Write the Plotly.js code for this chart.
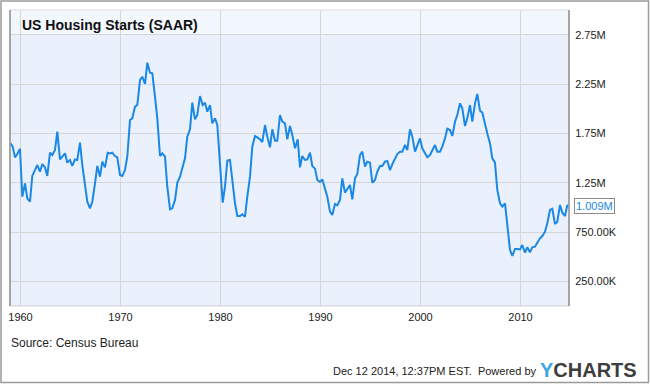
<!DOCTYPE html>
<html>
<head>
<meta charset="utf-8">
<script src="https://cdn.plot.ly/plotly-3.0.1.min.js"></script>
<style>html,body{margin:0;padding:0;background:#fff;}#chart{width:650px;height:384px;}</style>
</head>
<body>
<div id="chart"></div>
<script>
// US Housing Starts (SAAR), thousands of units
const years = [
1959.0,1959.22,1959.45,1959.68,1959.95,1960.18,1960.45,1960.68,1960.95,1961.18,1961.45,1961.68,1961.95,
1962.18,1962.45,1962.68,1962.95,1963.18,1963.45,1963.68,1963.95,1964.18,1964.45,1964.68,1964.95,
1965.18,1965.45,1965.68,1965.95,1966.18,1966.45,1966.68,1966.95,1967.18,1967.45,1967.68,1967.95,
1968.18,1968.45,1968.72,1968.95,1969.18,1969.45,1969.68,1969.95,1970.18,1970.45,1970.68,1970.95,
1971.18,1971.45,1971.68,1971.95,1972.18,1972.45,1972.68,1972.95,1973.18,1973.45,1973.68,1973.95,
1974.18,1974.45,1974.68,1974.95,1975.18,1975.45,1975.68,1975.95,1976.18,1976.45,1976.68,1976.95,
1977.18,1977.45,1977.68,1977.95,1978.22,1978.45,1978.68,1978.95,1979.18,1979.45,1979.68,1979.95,
1980.22,1980.45,1980.68,1980.95,1981.18,1981.45,1981.68,1981.95,1982.18,1982.45,1982.68,1982.95,
1983.18,1983.45,1983.68,1983.95,1984.18,1984.45,1984.68,1984.95,1985.18,1985.45,1985.68,1985.95,
1986.18,1986.45,1986.68,1986.95,1987.18,1987.45,1987.72,1987.95,1988.18,1988.45,1988.68,1988.95,
1989.18,1989.45,1989.68,1989.95,1990.18,1990.45,1990.68,1990.95,1991.18,1991.45,1991.68,1991.95,
1992.18,1992.45,1992.68,1992.95,1993.18,1993.45,1993.68,1993.95,1994.18,1994.45,1994.68,1994.95,
1995.18,1995.45,1995.68,1995.95,1996.18,1996.45,1996.68,1996.95,1997.22,1997.45,1997.68,1997.95,
1998.18,1998.45,1998.68,1998.95,1999.18,1999.45,1999.68,1999.95,2000.18,2000.45,2000.68,2000.95,
2001.18,2001.45,2001.68,2001.95,2002.18,2002.45,2002.68,2002.95,2003.18,2003.45,2003.68,2003.95,
2004.18,2004.45,2004.68,2004.95,2005.18,2005.45,2005.68,2005.95,2006.18,2006.45,2006.72,2006.95,
2007.18,2007.45,2007.68,2007.95,2008.18,2008.45,2008.68,2008.95,2009.18,2009.45,2009.68,2009.95,
2010.18,2010.45,2010.68,2010.95,2011.18,2011.45,2011.68,2011.95,2012.18,2012.45,2012.68,2012.95,
2013.18,2013.45,2013.68,2013.95,2014.18,2014.45,2014.68,2014.75
];
const startsK = [
1649,1615,1507,1540,1594,1108,1243,1091,1057,1318,1378,1429,1361,
1439,1405,1318,1554,1530,1581,1767,1486,1513,1547,1453,1480,
1419,1486,1480,1655,1429,1209,1057,990,1057,1243,1419,1311,
1463,1405,1554,1547,1554,1520,1507,1328,1318,1378,1513,1885,
1902,2020,2037,2290,2324,2250,2466,2365,2358,2121,1902,1520,
1547,1513,1209,980,990,1074,1250,1311,1412,1497,1716,1791,
2061,1892,1936,2128,2037,2061,1970,2037,1851,1902,1834,1446,
1047,1209,1473,1480,1243,1041,912,912,929,905,1108,1311,
1615,1723,1709,1689,1662,1834,1716,1608,1791,1676,1676,1936,
1868,1851,1689,1824,1733,1598,1689,1405,1520,1480,1486,1554,
1419,1392,1277,1257,1284,1176,1108,956,922,1034,1020,1074,
1294,1149,1182,1226,1081,1294,1338,1530,1564,1412,1463,1453,
1250,1277,1361,1419,1419,1463,1470,1378,1446,1497,1540,1564,
1564,1632,1581,1791,1716,1564,1632,1699,1598,1547,1507,1530,
1581,1632,1564,1564,1615,1699,1797,1784,1723,1868,1936,2054,
2004,1824,1902,2037,1868,2054,2149,1980,1960,1835,1733,1649,
1497,1453,1176,1041,1007,1041,838,568,507,578,578,574,
618,541,595,544,595,601,642,686,709,753,838,973,
986,831,854,1024,946,912,1024,1009
];
const yTickVals = [250, 750, 1250, 1750, 2250, 2750];
const yTickText = ["250.00K", "750.00K", "1.25M", "1.75M", "2.25M", "2.75M"];
const xTickVals = [1960, 1970, 1980, 1990, 2000, 2010];
const xTickText = ["1960", "1970", "1980", "1990", "2000", "2010"];
const lastLabel = "1.009M";

const FONT = "Liberation Sans, Arial, sans-serif";
// paper helpers (plot area 10..569 x 10..306)
const px = v => (v - 10) / 559;
const py = v => (306 - v) / 296;

const trace = {
  x: years, y: startsK, type: "scatter", mode: "lines",
  line: {color: "#1a88e4", width: 2}, hoverinfo: "skip"
};

const layout = {
  width: 650, height: 384,
  margin: {l: 10, r: 81, t: 10, b: 78, pad: 0},
  paper_bgcolor: "#ffffff",
  plot_bgcolor: "#eaf1fc",
  showlegend: false,
  font: {family: FONT, size: 11, color: "#333"},
  xaxis: {
    range: [1958.95, 2014.85], tickvals: xTickVals, ticktext: xTickText,
    showgrid: true, gridcolor: "#d6d6d6", gridwidth: 1, zeroline: false,
    ticks: "outside", ticklen: 1, tickcolor: "rgba(0,0,0,0)",
    tickfont: {family: FONT, size: 11, color: "#222"}, showline: false, fixedrange: true
  },
  yaxis: {
    side: "right", range: [0, 3000], tickvals: yTickVals, ticktext: yTickText,
    showgrid: true, gridcolor: "#d6d6d6", gridwidth: 1, zeroline: false,
    ticks: "outside", ticklen: 3, tickcolor: "rgba(0,0,0,0)",
    tickfont: {family: FONT, size: 11, color: "#222"}, showline: false, fixedrange: true
  },
  shapes: [
    {type: "rect", xref: "paper", yref: "paper", x0: 0, x1: 1, y0: py(35), y1: 1,
     fillcolor: "#f3f7fe", line: {width: 0}, layer: "below"},
    {type: "line", xref: "paper", yref: "paper", x0: 0, x1: 1, y0: 1, y1: 1,
     line: {color: "#dcdcdc", width: 1}},
    {type: "line", xref: "paper", yref: "paper", x0: 0, x1: 1, y0: 0, y1: 0,
     line: {color: "#cfcfcf", width: 1}},
    {type: "line", xref: "paper", yref: "paper", x0: 0, x1: 0, y0: 0, y1: 1,
     line: {color: "#8a8a8a", width: 1.5}},
    {type: "line", xref: "paper", yref: "paper", x0: 1, x1: 1, y0: 0, y1: 1,
     line: {color: "#8a8a8a", width: 1.5}},
    {type: "rect", xref: "paper", yref: "paper", x0: px(1), x1: px(648.5), y0: py(382.5), y1: py(1),
     fillcolor: "rgba(0,0,0,0)", line: {color: "#9a9a9a", width: 1.5}}
  ],
  annotations: [
    {xref: "paper", yref: "paper", x: px(20), y: py(25), xanchor: "left", yanchor: "middle",
     text: "<b>US Housing Starts (SAAR)</b>", showarrow: false,
     font: {family: FONT, size: 14, color: "#111"}},
    {xref: "paper", yref: "y", x: px(574), y: startsK[startsK.length - 1], xanchor: "left", yanchor: "middle",
     text: lastLabel, showarrow: false, bgcolor: "#ffffff", bordercolor: "#8a8a8a", borderwidth: 1, borderpad: 1,
     font: {family: FONT, size: 11, color: "#1a88e4"}},
    {xref: "paper", yref: "paper", x: px(9), y: py(343), xanchor: "left", yanchor: "middle",
     text: "Source: Census Bureau", showarrow: false,
     font: {family: FONT, size: 12, color: "#222"}},
    {xref: "paper", yref: "paper", x: px(539), y: py(371), xanchor: "right", yanchor: "middle",
     text: "Dec 12 2014, 12:37PM EST.  Powered by", showarrow: false,
     font: {family: FONT, size: 11, color: "#222"}},
    {xref: "paper", yref: "paper", x: px(538), y: py(370), xanchor: "left", yanchor: "middle",
     text: "<b><span style=\"color:#3aa7e0\">Y</span>CHARTS</b>", showarrow: false,
     font: {family: FONT, size: 20, color: "#3d3d3d"}}
  ]
};

Plotly.newPlot("chart", [trace], layout, {displayModeBar: false, staticPlot: true});
</script>
</body>
</html>
